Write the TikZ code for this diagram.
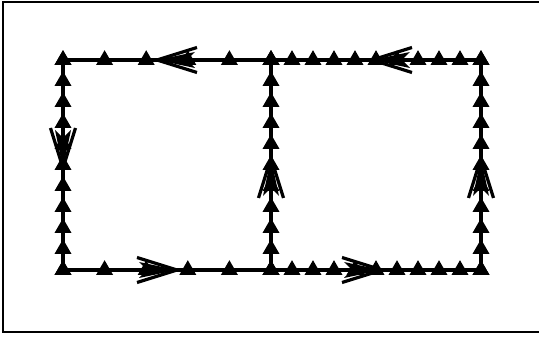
\documentclass[tikz,border=0pt]{standalone}
\usetikzlibrary{shapes.geometric}
\tikzset{
  edge/.style={line width=3.4pt},
  tri/.style={regular polygon, regular polygon sides=3, draw=black, fill=black, line width=1.8pt, minimum size=16pt, inner sep=0pt},
  frame/.style={line width=2pt},
  pics/bigarrow/.style={code={
    \fill (0,0) -- (-38pt,-8pt) -- (-30pt,0) -- (-38pt,8pt) -- cycle;
    \draw[line width=3.2pt] (-40pt,12.5pt) -- (0,0) -- (-40pt,-12.5pt);
  }}
}
\begin{document}
\begin{tikzpicture}[x=1pt,y=1pt]
\useasboundingbox (0,0) rectangle (539,337);
\draw[frame] (545,335) -- (3,335) -- (3,5) -- (545,5);
\coordinate (A) at (63,277);
\coordinate (B) at (271,277);
\coordinate (C) at (481,277);
\coordinate (D) at (63,67);
\coordinate (E) at (271,67);
\coordinate (F) at (481,67);
\draw[edge] (A) -- (C) -- (F) -- (D) -- cycle;
\draw[edge] (B) -- (E);
% markers, 5 intervals on left horizontal edges
\foreach \p in {0,0.2,0.4,0.6,0.8,1}{
  \path (A) -- (B) node[tri,pos=\p]{};
  \path (D) -- (E) node[tri,pos=\p]{};
}
% 10 intervals elsewhere
\foreach \p in {0,0.1,0.2,0.3,0.4,0.5,0.6,0.7,0.8,0.9,1}{
  \path (A) -- (D) node[tri,pos=\p]{};
  \path (B) -- (E) node[tri,pos=\p]{};
  \path (C) -- (F) node[tri,pos=\p]{};
  \path (B) -- (C) node[tri,pos=\p]{};
  \path (E) -- (F) node[tri,pos=\p]{};
}
% direction arrows
\pic[rotate=180] at (157,277) {bigarrow};
\pic[rotate=180] at (372,277) {bigarrow};
\pic at (177,67) {bigarrow};
\pic at (382,67) {bigarrow};
\pic[rotate=-90] at (63,169) {bigarrow};
\pic[rotate=90] at (271,179) {bigarrow};
\pic[rotate=90] at (481,179) {bigarrow};
\end{tikzpicture}
\end{document}
